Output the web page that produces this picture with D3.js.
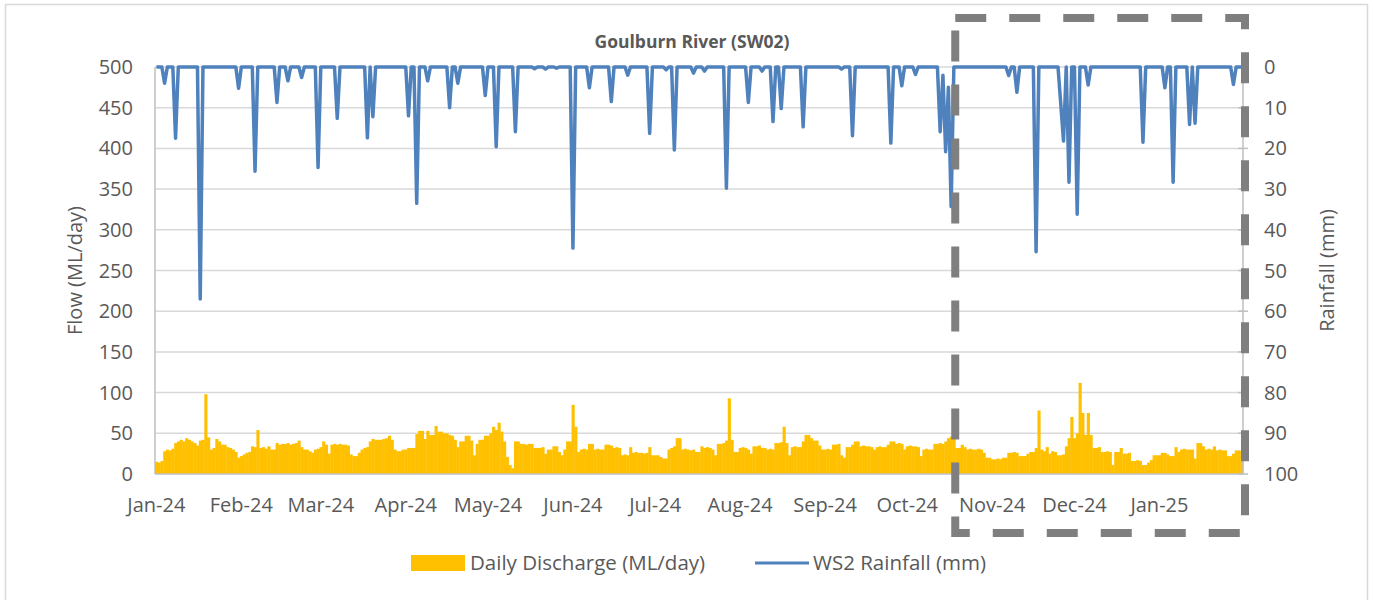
<!DOCTYPE html>
<html>
<meta charset="utf-8">
<style>
body { margin: 0; background: #fff; }
svg text { font-family: "Open Sans", "Liberation Sans", sans-serif; fill: #595959; }
</style>
<head>
<script src="https://d3js.org/d3.v7.min.js"></script>
</head>
<body>
<script>
// daily discharge (ML/day), one value per day starting 1 Jan 2024
var dischargeJan24 = [15,14,16,28,30,29,31,38,40,42,40,44,42,40,38,35,41,42,98,45,30,32,43,40,36,36,33,32,30,27,20];
var dischargeFeb24 = [22,24,26,27,34,33,54,32,33,31,34,30,30,38,36,37,37,38,36,37,38,41,33,30,30,28,26,30,31];
var dischargeMar24 = [33,40,36,25,36,37,36,37,36,36,35,24,22,22,26,30,32,33,40,43,42,42,42,43,44,47,42,30,28,28,30];
var dischargeApr24 = [30,32,32,32,49,53,53,43,53,48,48,59,52,52,50,50,48,47,42,33,40,40,47,47,41,23,37,42,42,47];
var dischargeMay24 = [47,50,58,54,63,52,40,21,11,7,40,40,37,37,36,37,37,32,32,32,33,25,30,30,34,34,27,23,30,40,40];
var dischargeJun24 = [85,58,27,30,31,30,37,37,30,31,30,30,36,36,35,32,33,32,23,24,23,33,26,27,26,26,25,26,33,23];
var dischargeJul24 = [23,23,21,19,19,30,32,34,44,44,30,31,30,29,30,27,27,34,32,33,32,30,23,37,37,38,41,93,42,27,27];
var dischargeAug24 = [32,33,32,30,25,34,34,35,32,32,30,31,30,38,38,39,58,38,23,33,34,33,33,40,48,48,44,41,41,35,30];
var dischargeSep24 = [30,31,30,36,36,37,23,20,33,33,36,40,40,34,35,34,34,33,30,33,34,33,33,36,40,40,37,38,37,30];
var dischargeOct24 = [34,35,34,34,33,22,30,31,30,30,37,37,38,37,40,44,46,56,32,32,36,33,30,31,30,30,31,30,26,20,20];
var dischargeNov24 = [18,18,19,18,20,20,26,26,27,26,22,22,22,25,27,27,32,78,30,28,33,25,28,27,23,23,24,34,44,70];
var dischargeDec24 = [44,50,112,75,48,75,48,32,32,33,27,27,28,27,11,27,27,32,25,25,26,16,16,17,16,11,11,14,17,23,23];
var dischargeJan25 = [23,26,26,24,22,22,33,27,30,31,30,30,30,19,38,38,34,30,31,30,34,29,30,29,29,22,22,25,29,29,28];

// rainfall events (mm): day number counted from 1 Jan 2024, all other days 0
var rainDay = [3,7,16,30,36,44,48,53,59,66,77,79,92,95,99,107,110,120,124,131,138,142,146,152,158,166,172,180,186,189,196,200,208,216,221,225,228,236,250,254,268,272,277,286,287,288,289,290,311,314,321,330,331,333,336,340,360,368,371,377,379,393];
var rainMm  = [4,17.5,57,5.2,25.6,8.7,3.4,2.6,24.7,12.6,17.4,12.2,12,33.5,3.4,10,4,7,19.6,15.9,0.4,0.5,0.3,44.5,5.1,8.5,2,16.3,0.7,20.4,1.5,1,29.8,8.7,1,13.4,10.2,14.7,0.5,16.9,18.7,4.6,1.8,15.9,2,20.8,5,34.3,2.1,6.2,45.4,9,18.2,28.3,36.2,4.4,18.5,5.1,28.3,14.1,13.8,4.3];

var flowTicks = [0,50,100,150,200,250,300,350,400,450,500];
var rainTicks = [0,10,20,30,40,50,60,70,80,90,100];

var chartTitle = "Goulburn River (SW02)";
var seriesNames = ["Daily Discharge (ML/day)", "WS2 Rainfall (mm)"];

(function () {
  var W = 1373, H = 600;
  var left = 155, right = 1243, top = 67, bottom = 474;

  var svg = d3.select("body").append("svg")
    .attr("width", W).attr("height", H);

  // chart border
  svg.append("rect")
    .attr("x", 5.5).attr("y", 4.5)
    .attr("width", 1362).attr("height", 640)
    .attr("fill", "none").attr("stroke", "#d9d9d9").attr("stroke-width", 1.5);

  var discharge = [].concat(dischargeJan24, dischargeFeb24, dischargeMar24, dischargeApr24,
    dischargeMay24, dischargeJun24, dischargeJul24, dischargeAug24, dischargeSep24,
    dischargeOct24, dischargeNov24, dischargeDec24, dischargeJan25);

  var start = new Date(2024, 0, 1);
  var days = discharge.map(function (v, i) {
    return { date: d3.timeDay.offset(start, i), flow: v, rain: 0 };
  });
  rainDay.forEach(function (d, i) { days[d].rain = rainMm[i]; });

  var x = d3.scaleTime()
    .domain([start, d3.timeDay.offset(start, days.length)])
    .range([left, right]);
  var half = (x(d3.timeDay.offset(start, 1)) - x(start)) / 2;
  var yFlow = d3.scaleLinear().domain([0, 500]).range([bottom, top]);
  var yRain = d3.scaleLinear().domain([0, 100]).range([top, bottom]);

  // gridlines
  svg.append("g").selectAll("line")
    .data(flowTicks.slice(1))
    .join("line")
    .attr("x1", left).attr("x2", right)
    .attr("y1", function (d) { return yFlow(d); })
    .attr("y2", function (d) { return yFlow(d); })
    .attr("stroke", "#d9d9d9").attr("stroke-width", 1.5);

  // discharge bars
  svg.append("g").selectAll("rect")
    .data(days)
    .join("rect")
    .attr("x", function (d) { return x(d.date); })
    .attr("width", half * 2 + 0.4)
    .attr("y", function (d) { return yFlow(d.flow); })
    .attr("height", function (d) { return bottom - yFlow(d.flow); })
    .attr("fill", "#ffc000");

  // axis lines
  svg.append("line").attr("x1", left).attr("x2", right).attr("y1", bottom).attr("y2", bottom)
    .attr("stroke", "#bfbfbf").attr("stroke-width", 1.5);
  svg.append("line").attr("x1", left).attr("x2", left).attr("y1", top).attr("y2", bottom)
    .attr("stroke", "#bfbfbf").attr("stroke-width", 1.5);
  svg.append("line").attr("x1", right).attr("x2", right).attr("y1", top).attr("y2", bottom)
    .attr("stroke", "#bfbfbf").attr("stroke-width", 1.5);
  svg.append("g").selectAll("line")
    .data(rainTicks)
    .join("line")
    .attr("x1", right - 5).attr("x2", right + 5)
    .attr("y1", function (d) { return yRain(d); })
    .attr("y2", function (d) { return yRain(d); })
    .attr("stroke", "#bfbfbf").attr("stroke-width", 1.5);

  // rainfall line
  var line = d3.line()
    .x(function (d) { return x(d.date) + half; })
    .y(function (d) { return yRain(d.rain); });
  svg.append("path")
    .datum(days)
    .attr("d", line)
    .attr("fill", "none")
    .attr("stroke", "#4f81bd")
    .attr("stroke-width", 3.5)
    .attr("stroke-linejoin", "round");

  // tick labels
  svg.append("g").selectAll("text")
    .data(flowTicks)
    .join("text")
    .attr("x", left - 22)
    .attr("y", function (d) { return yFlow(d); })
    .attr("dy", "0.35em")
    .attr("text-anchor", "end")
    .style("font-size", "20px")
    .text(function (d) { return d; });

  svg.append("g").selectAll("text")
    .data(rainTicks)
    .join("text")
    .attr("x", right + 21)
    .attr("y", function (d) { return yRain(d); })
    .attr("dy", "0.35em")
    .style("font-size", "20px")
    .text(function (d) { return d; });

  var fmt = d3.timeFormat("%b-%y");
  svg.append("g").selectAll("text")
    .data(d3.timeMonth.range(start, new Date(2025, 1, 1)))
    .join("text")
    .attr("x", function (d) { return x(d) + half; })
    .attr("y", bottom + 31)
    .attr("dy", "0.35em")
    .attr("text-anchor", "middle")
    .style("font-size", "20px")
    .text(function (d) { return fmt(d); });

  // axis titles
  svg.append("text")
    .attr("transform", "translate(75," + ((top + bottom) / 2) + ") rotate(-90)")
    .attr("text-anchor", "middle").attr("dy", "0.35em")
    .style("font-size", "20px")
    .text("Flow (ML/day)");
  svg.append("text")
    .attr("transform", "translate(1327," + ((top + bottom) / 2) + ") rotate(-90)")
    .attr("text-anchor", "middle").attr("dy", "0.35em")
    .style("font-size", "20px")
    .text("Rainfall (mm)");

  // title
  svg.append("text")
    .attr("x", 692).attr("y", 42).attr("dy", "0.35em")
    .attr("text-anchor", "middle")
    .style("font-size", "17.5px").style("font-weight", "bold")
    .text(chartTitle);

  // legend
  var lg = svg.append("g");
  lg.append("rect").attr("x", 411).attr("y", 555).attr("width", 54).attr("height", 16)
    .attr("fill", "#ffc000");
  lg.append("text").attr("x", 470).attr("y", 563).attr("dy", "0.35em")
    .style("font-size", "20.5px").text(seriesNames[0]);
  lg.append("line").attr("x1", 755).attr("x2", 809).attr("y1", 563).attr("y2", 563)
    .attr("stroke", "#4f81bd").attr("stroke-width", 3);
  lg.append("text").attr("x", 813).attr("y", 563).attr("dy", "0.35em")
    .style("font-size", "20.5px").text(seriesNames[1]);

  // dashed highlight box
  svg.append("rect")
    .attr("x", x(new Date(2024, 9, 19)))
    .attr("y", 18)
    .attr("width", 1245 - x(new Date(2024, 9, 19)))
    .attr("height", 515)
    .attr("fill", "none")
    .attr("stroke", "#7f7f7f")
    .attr("stroke-width", 8)
    .attr("stroke-dasharray", "31,23");
})();
</script>
</body>
</html>
